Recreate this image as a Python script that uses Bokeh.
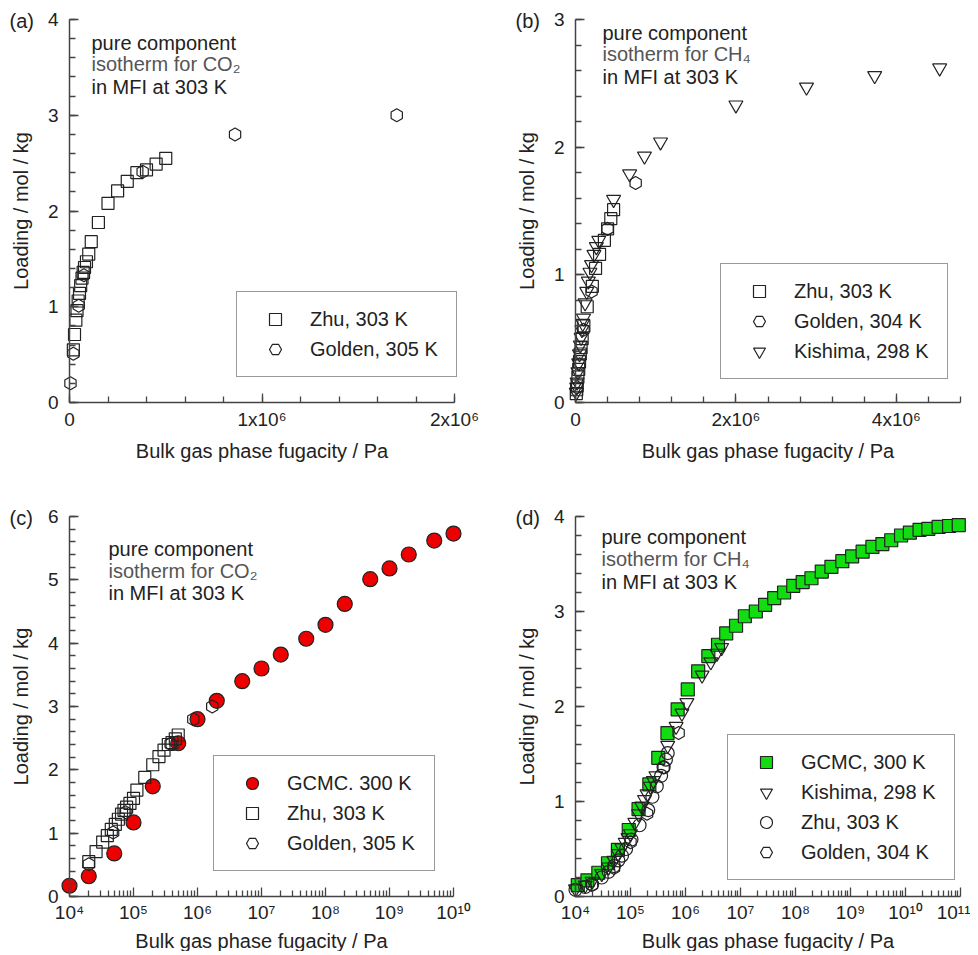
import numpy as np
from bokeh.plotting import figure
from bokeh.models import FixedTicker, Legend, LegendItem, Label, Range1d
from bokeh.layouts import column, row
from bokeh.embed import file_html
from bokeh.resources import INLINE

FONT = "Liberation Sans"
INK = "#222222"

# ---------------- data: CO2 in MFI ----------------
co2_gcmc_p = [1e4, 2e4, 5e4, 1e5, 2e5, 5e5, 1e6, 2e6, 5e6, 1e7, 2e7, 5e7, 1e8, 2e8,
              5e8, 1e9, 2e9, 5e9, 1e10]
co2_gcmc_q = [0.17, 0.32, 0.68, 1.17, 1.74, 2.42, 2.80, 3.09, 3.40, 3.60, 3.82, 4.07,
              4.29, 4.62, 5.01, 5.18, 5.40, 5.62, 5.73]
co2_zhu_p = [2.0e4, 2.6e4, 3.3e4, 3.9e4, 4.5e4, 5.2e4, 5.8e4, 6.5e4, 7.1e4, 7.8e4, 8.8e4,
             1.0e5, 1.13e5, 1.5e5, 2.0e5, 2.5e5, 3.0e5, 3.5e5, 4.0e5, 4.5e5, 5.0e5]
co2_zhu_q = [0.55, 0.71, 0.86, 0.96, 1.06, 1.14, 1.22, 1.30, 1.36, 1.41, 1.47,
             1.55, 1.68, 1.88, 2.08, 2.21, 2.31, 2.40, 2.43, 2.49, 2.55]
co2_golden_p = [5e3, 2.0e4, 4.8e4, 7.5e4, 3.8e5, 8.6e5, 1.7e6]
co2_golden_q = [0.20, 0.51, 1.01, 1.33, 2.41, 2.80, 3.00]

# ---------------- data: CH4 in MFI ----------------
ch4_gcmc_p = [1.1e4, 1.65e4, 2.6e4, 3.9e4, 5.9e4, 9.3e4, 1.4e5, 2.2e5, 3.2e5, 4.7e5,
              7.2e5, 1.1e6, 1.7e6, 2.6e6, 3.9e6, 5.5e6, 8.3e6, 1.2e7, 1.9e7, 2.8e7,
              4.1e7, 6.2e7, 9.1e7, 1.35e8, 1.95e8, 3.0e8, 4.5e8, 7.1e8, 1.07e9, 1.66e9,
              2.5e9, 3.8e9, 5.5e9, 8.3e9, 1.2e10, 1.8e10, 2.6e10, 4.0e10, 6.2e10, 9.3e10]
ch4_gcmc_q = [0.12, 0.17, 0.25, 0.35, 0.49, 0.70, 0.92, 1.18, 1.46, 1.72,
              1.97, 2.18, 2.37, 2.53, 2.65, 2.77, 2.85, 2.95, 3.00, 3.07,
              3.14, 3.20, 3.27, 3.31, 3.35, 3.42, 3.47, 3.53, 3.58, 3.63,
              3.68, 3.71, 3.75, 3.80, 3.83, 3.86, 3.87, 3.89, 3.90, 3.91]
ch4_kishima_p = [1.0e4, 1.5e4, 2.0e4, 3.0e4, 4.0e4, 5.0e4, 6.0e4, 7.0e4, 8.0e4, 9.0e4,
                 1.0e5, 1.2e5, 1.4e5, 1.6e5, 1.8e5, 2.0e5, 2.3e5, 2.6e5, 2.9e5,
                 4.75e5, 6.75e5, 8.6e5, 1.06e6, 2.0e6, 2.88e6, 3.73e6, 4.54e6]
ch4_kishima_q = [0.08, 0.12, 0.16, 0.24, 0.31, 0.38, 0.45, 0.51, 0.57, 0.62,
                 0.66, 0.78, 0.87, 0.95, 1.02, 1.08, 1.16, 1.22, 1.27,
                 1.59, 1.79, 1.93, 2.04, 2.33, 2.47, 2.56, 2.62]
ch4_zhu_p = [1.0e4, 1.5e4, 2.0e4, 3.0e4, 4.0e4, 5.0e4, 6.0e4, 7.0e4, 8.3e4, 1.04e5,
             1.46e5, 2.1e5, 2.5e5, 3.0e5, 3.6e5, 4.0e5, 4.4e5, 4.75e5]
ch4_zhu_q = [0.07, 0.10, 0.13, 0.20, 0.26, 0.32, 0.38, 0.43, 0.50, 0.60,
             0.75, 0.91, 1.05, 1.16, 1.27, 1.36, 1.44, 1.51]
ch4_golden_p = [2.0e4, 5.0e4, 1.0e5, 2.0e5, 4.0e5, 7.5e5]
ch4_golden_q = [0.12, 0.30, 0.57, 0.87, 1.36, 1.72]

# ---------------- tick labels ----------------
a_xticks = [0, 1e6, 2e6]
a_xlabels = ["0", "1x10\u2076", "2x10\u2076"]
b_xticks = [0, 2e6, 4e6]
b_xlabels = ["0", "2x10\u2076", "4x10\u2076"]
sup = {4: "\u2074", 5: "\u2075", 6: "\u2076", 7: "\u2077", 8: "\u2078", 9: "\u2079",
       10: "\u00b9\u2070", 11: "\u00b9\u00b9"}
c_xticks = [10.0 ** e for e in range(4, 11)]
c_xlabels = ["10" + sup[e] for e in range(4, 11)]
d_xticks = [10.0 ** e for e in range(4, 12)]
d_xlabels = ["10" + sup[e] for e in range(4, 12)]

XLABEL = "Bulk gas phase fugacity / Pa"
YLABEL = "Loading / mol / kg"
HEX_ANGLE = np.pi / 2

# layout (page pixels): figures fill the whole canvas; axes sit at fixed data locations
TOP_H, BOT_H = 465, 486
LEFT_W, RIGHT_W = 489, 481


class Mapper:
    """pixel <-> data mapping for one panel (frame == whole figure)."""

    def __init__(self, fx0, fy0, w, h, xlog, xa, pxa, xb, pxb, ya, pya, yb, pyb):
        self.fx0, self.fy0, self.w, self.h, self.xlog = fx0, fy0, w, h, xlog
        t = (lambda v: np.log10(v)) if xlog else (lambda v: v)
        self.xs = (t(xb) - t(xa)) / (pxb - pxa)
        self.xa, self.pxa = t(xa), pxa
        self.ys = (yb - ya) / (pyb - pya)
        self.ya, self.pya = ya, pya

    def x(self, px):
        v = self.xa + (px - self.pxa) * self.xs
        return 10 ** v if self.xlog else v

    def y(self, py):
        return self.ya + (py - self.pya) * self.ys

    def xrange(self):
        return (self.x(self.fx0), self.x(self.fx0 + self.w))

    def yrange(self):
        return (self.y(self.fy0 + self.h), self.y(self.fy0))


def make_fig(m, xtype):
    p = figure(width=m.w, height=m.h, x_axis_type=xtype, x_range=Range1d(*m.xrange()),
               y_range=Range1d(*m.yrange()), output_backend="svg", toolbar_location=None,
               min_border_left=0, min_border_right=0, min_border_top=0,
               min_border_bottom=0)
    p.outline_line_color = None
    p.xgrid.visible = False
    p.ygrid.visible = False
    p.background_fill_color = "white"
    p.border_fill_color = "white"
    return p


def style_axes(p, xticks, xlabels, xminor, xbounds, ymax, x0, xl_standoff, xa_standoff):
    p.xaxis.ticker = FixedTicker(ticks=xticks, minor_ticks=xminor)
    p.xaxis.major_label_overrides = dict(zip(xticks, xlabels))
    yt = list(range(0, ymax + 1))
    p.yaxis.ticker = FixedTicker(ticks=yt,
                                 minor_ticks=[round(0.2 * i, 1) for i in range(0, ymax * 5 + 1)])
    p.xaxis.fixed_location = 0
    p.yaxis.fixed_location = x0
    p.xaxis.bounds = xbounds
    p.yaxis.bounds = (0, ymax)
    for ax in (p.xaxis[0], p.yaxis[0]):
        ax.axis_line_color = "#444444"
        ax.axis_line_width = 1.5
        ax.major_tick_line_color = "#444444"
        ax.minor_tick_line_color = "#444444"
        ax.major_tick_line_width = 1.3
        ax.minor_tick_line_width = 1.3
        ax.major_tick_in = 9
        ax.major_tick_out = 0
        ax.minor_tick_in = 6
        ax.minor_tick_out = 0
        ax.major_label_text_font = FONT
        ax.major_label_text_font_size = "19px"
        ax.major_label_text_color = INK
        ax.axis_label_text_font = FONT
        ax.axis_label_text_font_size = "20px"
        ax.axis_label_text_font_style = "normal"
        ax.axis_label_text_color = INK
    p.xaxis.axis_label = XLABEL
    p.yaxis.axis_label = YLABEL
    p.xaxis.major_label_standoff = xl_standoff
    p.xaxis.axis_label_standoff = xa_standoff
    p.yaxis.major_label_standoff = 11
    p.yaxis.axis_label_standoff = 13


def add_texts(p, m, panel, ppx, ppy, tpx, tpy, gas):
    p.add_layout(Label(x=m.x(ppx), y=m.y(ppy), text=panel, text_font=FONT,
                       text_font_size="20px", text_color=INK, text_baseline="middle",
                       text_align="left"))
    lines = ["pure component", "isotherm for " + gas, "in MFI at 303 K"]
    colors = [INK, "#555555", INK]
    for t, py, c in zip(lines, tpy, colors):
        p.add_layout(Label(x=m.x(tpx), y=m.y(py), text=t, text_font=FONT,
                           text_font_size="20px", text_color=c, text_baseline="middle",
                           text_align="left"))


def add_legend(p, items, loc, lw):
    leg = Legend(items=[LegendItem(label=l, renderers=[r]) for l, r in items],
                 location=loc, orientation="vertical")
    leg.label_text_font = FONT
    leg.label_text_font_size = "20px"
    leg.label_text_color = INK
    leg.border_line_color = "#333333"
    leg.border_line_width = 1.3
    leg.background_fill_color = "white"
    leg.background_fill_alpha = 1.0
    leg.padding = 12
    leg.spacing = -3
    leg.margin = 0
    leg.glyph_width = 52
    leg.glyph_height = 30
    leg.label_height = 30
    leg.label_standoff = 9
    leg.label_width = lw
    p.add_layout(leg)


def open_marker(p, x, y, marker, size=12, angle=0.0):
    return p.scatter(x, y, marker=marker, size=size, fill_color=None,
                     line_color=INK, line_width=1.2, angle=angle)


lin_a_minor = [2e5 * i for i in range(0, 11)]
lin_b_minor = [4e5 * i for i in range(0, 13)]
log_c_minor = [m * 10.0 ** e for e in range(4, 10) for m in range(2, 10)]
log_d_minor = [m * 10.0 ** e for e in range(4, 11) for m in range(2, 10)]

# ---------------- panel (a) ----------------
ma = Mapper(0, 0, LEFT_W, TOP_H, False, 0, 69, 2e6, 454, 0, 402, 4, 19)
pa = make_fig(ma, "linear")
style_axes(pa, a_xticks, a_xlabels, lin_a_minor, (0, 2e6), 4, 0, 6, 7)
ra1 = open_marker(pa, co2_zhu_p, co2_zhu_q, "square")
ra2 = open_marker(pa, co2_golden_p, co2_golden_q, "hex", 13, HEX_ANGLE)
add_texts(pa, ma, "(a)", 9, 20, 91, [42, 63, 86], "CO\u2082")
add_legend(pa, [("Zhu, 303 K", ra1), ("Golden, 305 K", ra2)], (236, TOP_H - 377), 134)

# ---------------- panel (b) ----------------
mb = Mapper(489, 0, RIGHT_W, TOP_H, False, 0, 575, 4.8e6, 960, 0, 402, 3, 19)
pb = make_fig(mb, "linear")
style_axes(pb, b_xticks, b_xlabels, lin_b_minor, (0, 4.8e6), 3, 0, 6, 7)
rb1 = open_marker(pb, ch4_zhu_p, ch4_zhu_q, "square")
rb2 = open_marker(pb, ch4_golden_p, ch4_golden_q, "hex", 13, HEX_ANGLE)
rb3 = open_marker(pb, ch4_kishima_p, ch4_kishima_q, "inverted_triangle", 14)
add_texts(pb, mb, "(b)", 515, 20, 602, [32, 53, 76], "CH\u2084")
add_legend(pb, [("Zhu, 303 K", rb1), ("Golden, 304 K", rb2), ("Kishima, 298 K", rb3)],
           (720 - 489, TOP_H - 379), 141)

# ---------------- panel (c) ----------------
Y0 = TOP_H
mc = Mapper(0, Y0, LEFT_W, BOT_H, True, 1e4, 69, 1e10, 453, 0, 896, 6, 516)
pc = make_fig(mc, "log")
style_axes(pc, c_xticks, c_xlabels, log_c_minor, (1e4, 1e10), 6, 1e4, 5, 4)
rc1 = pc.scatter(co2_gcmc_p, co2_gcmc_q, marker="circle", size=15, fill_color="#EE0000",
                 line_color=INK, line_width=1.2)
rc2 = open_marker(pc, co2_zhu_p, co2_zhu_q, "square")
gold_c = [(x, y) for x, y in zip(co2_golden_p, co2_golden_q) if x >= 1e4]
rc3 = open_marker(pc, [g[0] for g in gold_c], [g[1] for g in gold_c], "hex", 13, HEX_ANGLE)
add_texts(pc, mc, "(c)", 9, 517, 108, [548, 570, 592], "CO\u2082")
add_legend(pc, [("GCMC. 300 K", rc1), ("Zhu, 303 K", rc2), ("Golden, 305 K", rc3)],
           (213, Y0 + BOT_H - 871), 135)

# ---------------- panel (d) ----------------
md = Mapper(489, Y0, RIGHT_W, BOT_H, True, 1e4, 575, 1e11, 960, 0, 896, 4, 516)
pd_ = make_fig(md, "log")
style_axes(pd_, d_xticks, d_xlabels, log_d_minor, (1e4, 1e11), 4, 1e4, 5, 4)
rd1 = pd_.scatter(ch4_gcmc_p, ch4_gcmc_q, marker="square", size=13, fill_color="#11DD11",
                  line_color=INK, line_width=1.2)
rd2 = open_marker(pd_, ch4_kishima_p, ch4_kishima_q, "inverted_triangle", 14)
rd3 = open_marker(pd_, ch4_zhu_p, ch4_zhu_q, "circle", 13)
rd4 = open_marker(pd_, ch4_golden_p, ch4_golden_q, "hex", 13, HEX_ANGLE)
add_texts(pd_, md, "(d)", 515, 517, 601, [536, 558, 581], "CH\u2084")
add_legend(pd_, [("GCMC, 300 K", rd1), ("Kishima, 298 K", rd2), ("Zhu, 303 K", rd3),
                 ("Golden, 304 K", rd4)], (727 - 489, Y0 + BOT_H - 880), 141)

layout = column(row(pa, pb), row(pc, pd_))
open("out.html", "w").write(file_html(layout, INLINE))
